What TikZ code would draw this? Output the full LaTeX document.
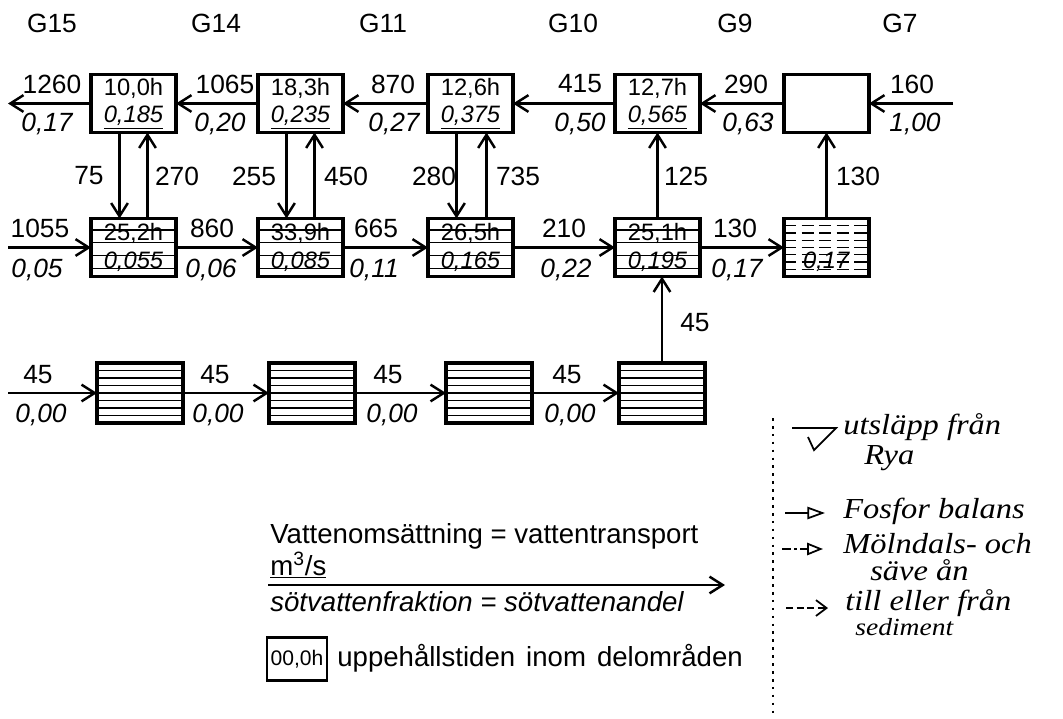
\documentclass[tikz,border=0pt]{standalone}
\usepackage{fontspec}
\setmainfont{Liberation Sans}
\newfontfamily\handfont[FakeStretch=1.12]{Liberation Serif}
\usetikzlibrary{arrows.meta,calc}
\begin{document}
\begin{tikzpicture}[x=0.02cm,y=-0.02cm,
  arr/.style={line width=1.5pt,-{Straight Barb[length=7.5pt,width=9.5pt,line width=1.4pt]}},
  box/.style={draw,line width=1.8pt,minimum width=1.7cm,minimum height=1.16cm,inner sep=0pt,outer sep=0pt},
  bbox/.style={box,minimum width=1.72cm,minimum height=1.2cm},
  lab/.style={font=\fontsize{15}{17}\selectfont,inner sep=0pt},
  ilab/.style={font=\fontsize{15}{17}\selectfont\itshape,inner sep=0pt},
  btxt/.style={font=\fontsize{13.5}{15.5}\selectfont,align=center},
  hatch/.style={line width=0.7pt},
  dhatch/.style={line width=0.8pt,dash pattern=on 7pt off 3pt},
  leg/.style={font=\fontsize{15.7}{18}\selectfont,inner sep=0pt,anchor=base west},
  hand/.style={font=\handfont\itshape\fontsize{16.5}{18}\selectfont,inner sep=0pt,anchor=base west},
  sym/.style={line width=1pt},
]
\useasboundingbox (0,0) rectangle (1063,718);

% column labels
\node[lab] (g15) at (52,23) {G15};
\node[lab] (g14) at (216,23) {G14};
\node[lab] (g11) at (383,23) {G11};
\node[lab] (g10) at (573,23) {G10};
\node[lab] (g9)  at (735,23) {G9};
\node[lab] (g7)  at (900,23) {G7};

% top row
\node[box,btxt] (t15) at (133.5,103.5) {10,0h\\\underline{\textit{0,185}}};
\node[box,btxt] (t14) at (300.5,103.5) {18,3h\\\underline{\textit{0,235}}};
\node[box,btxt] (t11) at (470.5,103.5) {12,6h\\\underline{\textit{0,375}}};
\node[box,btxt] (t10) at (657.5,103.5) {12,7h\\\underline{\textit{0,565}}};
\node[box] (t7) at (826.5,103.5) {};
\coordinate (tout) at (8,103.5);
\coordinate (tin) at (953,103.5);
\draw[arr] (t15.west) -- (tout);
\draw[arr] (t14.west) -- (t15.east);
\draw[arr] (t11.west) -- (t14.east);
\draw[arr] (t10.west) -- (t11.east);
\draw[arr] (t7.west) -- (t10.east);
\draw[arr] (tin) -- (t7.east);

% middle row
\node[box,btxt] (m15) at (133.5,247.5) {25,2h\\\textit{0,055}};
\node[box,btxt] (m14) at (300.5,247.5) {33,9h\\\textit{0,085}};
\node[box,btxt] (m11) at (470.5,247.5) {26,5h\\\textit{0,165}};
\node[box,btxt] (m10) at (657.5,247.5) {25,1h\\\textit{0,195}};
\node[box] (m7) at (826.5,247.5) {};
\node[btxt,inner sep=0pt] (m7t) at (826.5,262) {\textit{0,17}};
\foreach \n in {m15,m14,m11,m10}{
  \foreach \f in {0.2,0.42,0.64,0.86}{
    \draw[hatch] ($(\n.north west)!\f!(\n.south west)$) -- ($(\n.north east)!\f!(\n.south east)$);
  }
}
\foreach \f in {0.125,0.25,0.375,0.5,0.625,0.75,0.875}{
  \draw[dhatch] ($(m7.north west)!\f!(m7.south west)$) -- ($(m7.north east)!\f!(m7.south east)$);
}
\coordinate (min) at (8,247.5);
\draw[arr] (min) -- (m15.west);
\draw[arr] (m15.east) -- (m14.west);
\draw[arr] (m14.east) -- (m11.west);
\draw[arr] (m11.east) -- (m10.west);
\draw[arr] (m10.east) -- (m7.west);

% verticals
\draw[arr] ($(t15.south)+(-14,0)$) -- ($(m15.north)+(-14,0)$);
\draw[arr] ($(m15.north)+(14,0)$) -- ($(t15.south)+(14,0)$);
\draw[arr] ($(t14.south)+(-14,0)$) -- ($(m14.north)+(-14,0)$);
\draw[arr] ($(m14.north)+(14,0)$) -- ($(t14.south)+(14,0)$);
\draw[arr] ($(t11.south)+(-14,0)$) -- ($(m11.north)+(-14,0)$);
\draw[arr] ($(m11.north)+(16,0)$) -- ($(t11.south)+(16,0)$);
\draw[arr] (m10.north) -- (t10.south);
\draw[arr] (m7.north) -- (t7.south);

% bottom row
\node[bbox] (b15) at (140,393) {};
\node[bbox] (b14) at (312,393) {};
\node[bbox] (b11) at (489,393) {};
\node[bbox] (b10) at (662,393) {};
\foreach \n in {b15,b14,b11,b10}{
  \foreach \f in {0.125,0.25,0.375,0.5,0.625,0.75,0.875}{
    \draw[hatch] ($(\n.north west)!\f!(\n.south west)$) -- ($(\n.north east)!\f!(\n.south east)$);
  }
}
\coordinate (bin) at (8,393);
\draw[arr] (bin) -- (b15.west);
\draw[arr] (b15.east) -- (b14.west);
\draw[arr] (b14.east) -- (b11.west);
\draw[arr] (b11.east) -- (b10.west);
\draw[arr] (b10.north) -- (b10.north |- m10.south);

% top labels
\node[lab] (l1260) at (52,84) {1260};   \node[ilab] (f017a) at (47,124) {0,17};
\node[lab] (l1065) at (225,84) {1065};  \node[ilab] (f020) at (220,124) {0,20};
\node[lab] (l870) at (393,84) {870};    \node[ilab] (f027) at (394,124) {0,27};
\node[lab] (l415) at (580,84) {415};    \node[ilab] (f050) at (580,124) {0,50};
\node[lab] (l290) at (746,84) {290};    \node[ilab] (f063) at (748,124) {0,63};
\node[lab] (l160) at (912,84) {160};    \node[ilab] (f100) at (915,124) {1,00};

% vertical labels
\node[lab] (l75) at (89,176) {75};
\node[lab] (l270) at (177,176) {270};
\node[lab] (l255) at (254,176) {255};
\node[lab] (l450) at (346,176) {450};
\node[lab] (l280) at (434,176) {280};
\node[lab] (l735) at (518,176) {735};
\node[lab] (l125) at (686,176) {125};
\node[lab] (l130v) at (858,176) {130};

% middle labels
\node[lab] (l1055) at (40,228) {1055};  \node[ilab] (f005) at (37,270) {0,05};
\node[lab] (l860) at (212,228) {860};   \node[ilab] (f006) at (211,270) {0,06};
\node[lab] (l665) at (376,228) {665};   \node[ilab] (f011) at (374,270) {0,11};
\node[lab] (l210) at (564,228) {210};   \node[ilab] (f022) at (566,270) {0,22};
\node[lab] (l130) at (735,228) {130};   \node[ilab] (f017b) at (737,270) {0,17};

% bottom labels
\node[lab] (l45a) at (38,375) {45};   \node[ilab] (f000a) at (41,415) {0,00};
\node[lab] (l45b) at (215,375) {45};  \node[ilab] (f000b) at (218,415) {0,00};
\node[lab] (l45c) at (388,375) {45};  \node[ilab] (f000c) at (392,415) {0,00};
\node[lab] (l45d) at (567,375) {45};  \node[ilab] (f000d) at (570,415) {0,00};
\node[lab] (l45e) at (695,323) {45};

% legend
\node[leg] (lg1) at (270,543) {Vattenomsättning = vattentransport};
\node[leg] (lg2) at (270,575) {\underline{m\textsuperscript{3}/s}};
\coordinate (la) at (268,585);
\coordinate (lb) at (725,585);
\draw[arr] (la) -- (lb);
\node[leg,font=\fontsize{15.7}{18}\selectfont\itshape] (lg3) at (270,611) {sötvattenfraktion = sötvattenandel};
\node[draw,line width=1.3pt,minimum width=1.2cm,minimum height=0.86cm,inner sep=0pt,font=\fontsize{12}{14}\selectfont] (lgb) at (297,659) {00,0h};
\node[leg] (lg4) at (337,666) {uppehållstiden\hspace{0.4em}inom\hspace{0.4em}delområden};

% handwritten legend
\draw[line width=0.6pt,dash pattern=on 1.5pt off 3pt] (773,418) -- (773,718);
\draw[sym] (792,428) -- (836,428) -- (814,450) -- (808,437);
\node[hand] (h1) at (843,434) {utsläpp från};
\node[hand] (h1b) at (864,464) {Rya};
\coordinate (s2a) at (785,513);
\coordinate (s2b) at (825,513);
\draw[sym,-{Triangle[open,length=10pt,width=7pt]}] (s2a) -- (s2b);
\node[hand] (h2) at (843,518) {Fosfor balans};
\coordinate (s3a) at (782,549);
\coordinate (s3b) at (823,549);
\draw[sym,dash pattern=on 5pt off 2pt on 1.5pt off 2pt,-{Triangle[open,length=9pt,width=7pt]}] (s3a) -- (s3b);
\node[hand] (h3) at (843,553) {Mölndals- och};
\node[hand] (h3b) at (870,580) {säve ån};
\coordinate (s4a) at (786,608);
\coordinate (s4b) at (828,608);
\draw[sym,dash pattern=on 4pt off 2pt,-{Straight Barb[length=6pt,width=9pt]}] (s4a) -- (s4b);
\node[hand] (h4) at (845,610) {till eller från};
\node[hand,font=\handfont\itshape\fontsize{14}{16}\selectfont] (h4b) at (855,635) {sediment};
\end{tikzpicture}
\end{document}
